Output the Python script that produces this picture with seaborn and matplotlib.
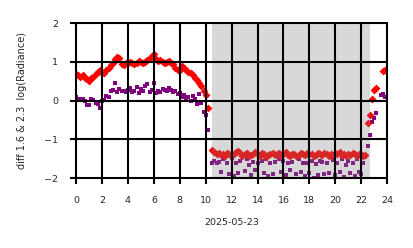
import numpy as np
import pandas as pd
import matplotlib
matplotlib.use("Agg")
import matplotlib.pyplot as plt
import seaborn as sns

hours = [h + m / 60 for h in range(24) for m in (0, 10, 20, 30, 40, 50)]

red_vals = [
    0.68, 0.65, 0.62, 0.66, 0.58, 0.55,
    0.50, 0.57, 0.62, 0.68, 0.75, 0.78,
    0.72, 0.70, 0.80, 0.85, 0.92, 0.98,
    1.08, 1.12, 1.10, 0.95, 0.92, 0.96,
    0.98, 1.00, 0.97, 0.95, 0.98, 1.02,
    0.99, 0.96, 1.00, 1.05, 1.10, 1.15,
    1.20, 1.08, 1.02, 1.05, 1.00, 0.98,
    1.00, 1.02, 0.98, 0.95, 0.85, 0.78,
    0.80, 0.88, 0.85, 0.80, 0.75, 0.72,
    0.65, 0.58, 0.52, 0.45, 0.38, 0.25,
    0.15, -0.18, np.nan, -1.28, -1.34, -1.38,
    -1.36, -1.40, -1.38, -1.42, -1.35, -1.37,
    -1.41, -1.38, -1.33, -1.30, -1.36, -1.42,
    -1.38, -1.35, -1.44, -1.40, -1.37, -1.33,
    -1.39, -1.42, -1.36, -1.38, -1.45, -1.40,
    -1.37, -1.35, -1.41, -1.39, -1.36, -1.43,
    -1.38, -1.34, -1.40, -1.42, -1.37, -1.39,
    -1.44, -1.40, -1.36, -1.38, -1.41, -1.35,
    -1.39, -1.37, -1.42, -1.40, -1.36, -1.38,
    -1.41, -1.35, -1.39, -1.43, -1.37, -1.40,
    -1.36, -1.38, -1.33, -1.41, -1.39, -1.42,
    -1.37, -1.40, -1.35, -1.38, -1.44, -1.39,
    -1.38, -1.42, -1.40, -0.58, -0.37, 0.05,
    0.27, 0.33, np.nan, np.nan, 0.76, 0.80,
]

purple_vals = [
    0.08, 0.05, 0.04, 0.05, -0.02, -0.12,
    -0.12, 0.05, 0.02, -0.05, -0.08, -0.18,
    -0.02, 0.02, 0.12, 0.10, 0.25, 0.28,
    0.45, 0.22, 0.30, 0.25, 0.25, 0.22,
    0.28, 0.32, 0.22, 0.25, 0.35, 0.20,
    0.30, 0.25, 0.38, 0.42, 0.22, 0.28,
    0.45, 0.20, 0.25, 0.22, 0.30, 0.28,
    0.25, 0.32, 0.28, 0.22, 0.25, 0.18,
    0.20, 0.10, 0.15, 0.05, 0.08, 0.00,
    0.12, 0.05, -0.08, 0.18, -0.05, -0.30,
    -0.38, -0.75, np.nan, -1.62, -1.55, -1.60,
    -1.58, -1.85, -1.52, -2.05, -1.62, -1.90,
    -1.48, -1.95, -1.60, -1.88, -1.55, -2.10,
    -1.82, -1.50, -1.65, -1.92, -1.58, -1.78,
    -1.60, -2.02, -1.55, -1.88, -1.50, -1.95,
    -1.62, -1.90, -1.58, -2.08, -1.52, -1.85,
    -1.55, -1.92, -1.60, -1.80, -1.58, -2.04,
    -1.90, -1.52, -1.85, -1.62, -1.95, -1.60,
    -1.88, -1.56, -2.00, -1.64, -1.92, -1.55,
    -1.58, -1.90, -1.62, -1.86, -2.06, -1.54,
    -1.92, -1.60, -1.85, -1.52, -1.96, -1.65,
    -1.56, -1.88, -1.62, -1.94, -1.50, -1.84,
    -1.90, -1.60, -1.45, -1.18, -0.90, -0.55,
    -0.45, -0.33, np.nan, 0.15, 0.18, 0.10,
]

night_span = (10.5, 22.7)
x_ticks = list(range(0, 25, 2))
y_ticks = [-2, -1, 0, 1, 2]
xlabel = "2025-05-23"
ylabel = "diff 1.6 & 2.3  log(Radiance)"

df_red = pd.DataFrame({"hour": hours, "value": red_vals})
df_pur = pd.DataFrame({"hour": hours, "value": purple_vals})

sns.set_style("white")
plt.rcParams["font.family"] = ["DejaVu Sans"]

fig = plt.figure(figsize=(4.14, 2.48), dpi=100)
ax = fig.add_axes([0.184, 0.282, 0.751, 0.625])

sns.scatterplot(data=df_pur, x="hour", y="value", ax=ax, color="purple",
                marker="s", s=10, linewidth=0, zorder=2)
sns.scatterplot(data=df_red, x="hour", y="value", ax=ax, color="red",
                marker="D", s=16, linewidth=0, zorder=2.1)

ax.axvspan(night_span[0], night_span[1], color="gray", alpha=0.3, lw=0, zorder=2.4)

ax.set_xlim(0, 24)
ax.set_ylim(-2, 2)
ax.set_xticks(x_ticks)
ax.set_yticks(y_ticks)
ax.grid(True, color="black", linewidth=1.5, zorder=3)
ax.set_axisbelow(False)
for sp in ax.spines.values():
    sp.set_visible(False)
for gl in ax.get_xgridlines() + ax.get_ygridlines():
    gl.set_clip_on(False)
ax.tick_params(axis="both", which="major", length=4, width=1.5, color="black",
               labelsize=6.8, bottom=True, left=True)
ax.tick_params(axis="x", pad=9)
ax.tick_params(axis="y", pad=9)
ax.set_xlabel(xlabel, fontsize=6.8, labelpad=9)
ax.set_ylabel(ylabel, fontsize=7, labelpad=12)

fig.savefig("out.png", dpi=100)
